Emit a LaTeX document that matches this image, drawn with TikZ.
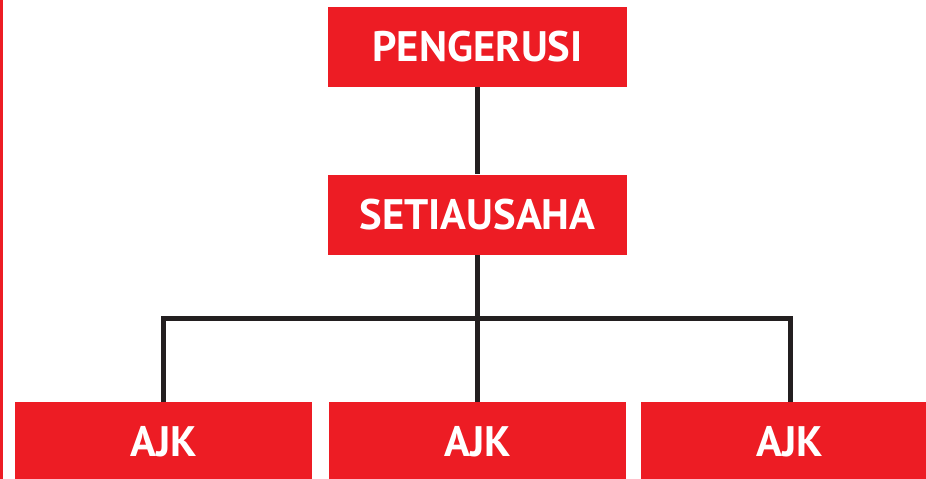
\documentclass[tikz,border=0pt]{standalone}
\usepackage{fontspec}
\setmainfont{PT Sans}
\definecolor{merah}{HTML}{ED1C24}
\definecolor{hitam}{HTML}{231F20}
\tikzstyle{jawatan} = [rectangle, fill=merah, text=white, font=\bfseries\fontsize{32}{38}\selectfont, text centered, minimum width=224.25pt, minimum height=60pt, inner sep=0pt]
\tikzstyle{ahli} = [jawatan, minimum width=223pt]
\tikzstyle{garis} = [line width=3.75pt, draw=hitam]

\begin{document}
\begin{tikzpicture}[x=0.75pt, y=-0.75pt]
        \clip (0,0) rectangle (926,479);
        \fill [merah] (0,0) rectangle (3,479);
        \node (pengerusi) [jawatan] at (477.5,47) {PENGERUSI};
        \node (setiausaha) [jawatan, below of = pengerusi, yshift = -97.2pt] {SETIAUSAHA};
        \node (ajktengah) [ahli, below of = setiausaha, yshift = -142.2pt] {AJK};
        \node (ajkkiri) [ahli, left of = ajktengah, xshift = -207pt] {AJK};
        \node (ajkkanan) [ahli, right of = ajktengah, xshift = 206pt] {AJK};
        \coordinate (cabang) at (477.5,318);
        \draw [garis] (pengerusi) -- (setiausaha);
        \draw [garis] (setiausaha) -- (ajktengah);
        \draw [garis] (ajkkiri) |- (cabang) -| (ajkkanan);
    \end{tikzpicture}
\end{document}
